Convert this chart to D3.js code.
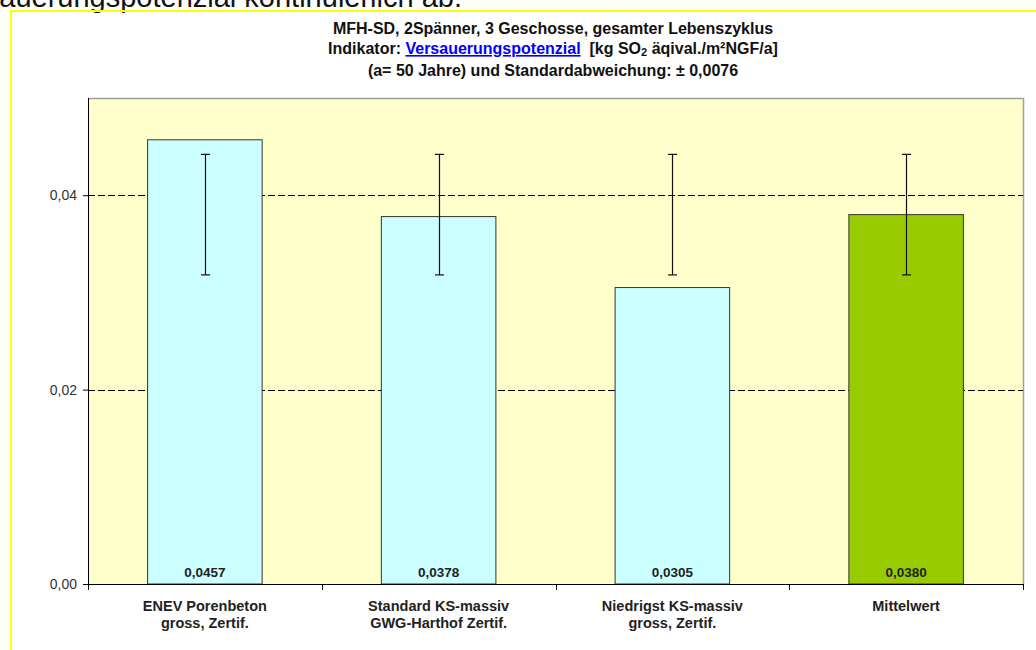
<!DOCTYPE html>
<html>
<head>
<meta charset="utf-8">
<script src="https://cdn.jsdelivr.net/npm/d3@7"></script>
<style>
  html, body { margin: 0; padding: 0; background: #fff; }
  svg { display: block; font-family: Arial, "Liberation Sans", sans-serif; }
</style>
</head>
<body>
<svg id="chart" width="1036" height="650"></svg>
<script>
// Building variants and their acidification potential (kg SO2 equiv./m²NGF/a)
const categories = [
  ["ENEV Porenbeton", "gross, Zertif."],
  ["Standard KS-massiv", "GWG-Harthof Zertif."],
  ["Niedrigst KS-massiv", "gross, Zertif."],
  ["Mittelwert"]
];
const values = [0.0457, 0.0378, 0.0305, 0.0380];
const valueLabels = ["0,0457", "0,0378", "0,0305", "0,0380"];
const barColors = ["#CCFFFF", "#CCFFFF", "#CCFFFF", "#99CC00"];
// Error bar extents per variant
const errLow = [0.0318, 0.0318, 0.0318, 0.0318];
const errHigh = [0.0442, 0.0442, 0.0442, 0.0442];
const yTicks = [0, 0.02, 0.04];
const yTickLabels = ["0,00", "0,02", "0,04"];

const svg = d3.select("#chart");
const plot = { left: 88, right: 1023, top: 98, bottom: 584 };

// Running page text above the chart frame
svg.append("text")
  .attr("x", 462).attr("y", 7)
  .attr("text-anchor", "end")
  .attr("font-size", 29)
  .attr("fill", "#111")
  .text("Versauerungspotenzial kontinuierlich ab.");

// Yellow frame
svg.append("path")
  .attr("d", "M11,650 V11 H1036")
  .attr("fill", "none")
  .attr("stroke", "#FFFF00")
  .attr("stroke-width", 2);

// Title
const title = svg.append("g").attr("font-weight", "bold").attr("font-size", 16)
  .attr("text-anchor", "middle").attr("fill", "#111");
title.append("text").attr("x", 553).attr("y", 34)
  .text("MFH-SD, 2Spänner, 3 Geschosse, gesamter Lebenszyklus");
const t2 = title.append("text").attr("x", 553).attr("y", 54);
t2.append("tspan").text("Indikator: ");
t2.append("tspan").attr("fill", "#0000FF").attr("text-decoration", "underline")
  .text("Versauerungspotenzial");
t2.append("tspan").text("\u00A0 [kg SO");
t2.append("tspan").attr("font-size", 11).attr("dy", 2).text("2");
t2.append("tspan").attr("dy", -2).text(" äqival./m²NGF/a]");
title.append("text").attr("x", 553).attr("y", 76)
  .text("(a= 50 Jahre) und Standardabweichung: ± 0,0076");

// Scales
const x = d3.scaleBand()
  .domain(d3.range(categories.length))
  .range([plot.left, plot.right])
  .paddingInner(0.51)
  .paddingOuter(0.255);
const xBand = d3.scaleBand()
  .domain(d3.range(categories.length))
  .range([plot.left, plot.right]);
const y = d3.scaleLinear().domain([0, 0.05]).range([plot.bottom, plot.top]);

// Plot background
svg.append("rect")
  .attr("x", plot.left).attr("y", plot.top)
  .attr("width", plot.right - plot.left).attr("height", plot.bottom - plot.top)
  .attr("fill", "#FFFFCC");
svg.append("path")
  .attr("d", `M${plot.left},${plot.top + 0.5} H${plot.right + 0.5} V${plot.bottom}`)
  .attr("fill", "none").attr("stroke", "#A0A0A0").attr("stroke-width", 1.5);

// Gridlines
svg.append("g").selectAll("line")
  .data(yTicks.filter(d => d > 0))
  .join("line")
  .attr("x1", plot.left).attr("x2", plot.right)
  .attr("y1", d => Math.round(y(d)) + 0.5).attr("y2", d => Math.round(y(d)) + 0.5)
  .attr("stroke", "#000").attr("stroke-width", 1)
  .attr("stroke-dasharray", "7,3");

// Bars
svg.append("g").selectAll("rect")
  .data(values)
  .join("rect")
  .attr("x", (d, i) => x(i))
  .attr("y", d => y(d))
  .attr("width", x.bandwidth())
  .attr("height", d => y(0) - y(d))
  .attr("fill", (d, i) => barColors[i])
  .attr("stroke", "#333")
  .attr("stroke-width", 1);

// Error bars
const eb = svg.append("g").attr("stroke", "#111").attr("stroke-width", 1.2);
values.forEach((v, i) => {
  const cx = Math.round(x(i) + x.bandwidth() / 2) + 0.5;
  eb.append("line").attr("x1", cx).attr("x2", cx)
    .attr("y1", y(errLow[i])).attr("y2", y(errHigh[i]));
  [errLow[i], errHigh[i]].forEach(e => {
    eb.append("line").attr("x1", cx - 4.5).attr("x2", cx + 4.5)
      .attr("y1", y(e)).attr("y2", y(e));
  });
});

// Value labels inside the bars
svg.append("g").selectAll("text")
  .data(values)
  .join("text")
  .attr("x", (d, i) => x(i) + x.bandwidth() / 2)
  .attr("y", 577)
  .attr("text-anchor", "middle")
  .attr("font-size", 13.5).attr("font-weight", "bold").attr("fill", "#222")
  .text((d, i) => valueLabels[i]);

// Y axis
const yAxis = svg.append("g")
  .attr("transform", `translate(${plot.left},0)`)
  .call(d3.axisLeft(y).tickValues(yTicks).tickSize(5).tickPadding(6)
    .tickFormat((d, i) => yTickLabels[i]));
yAxis.select(".domain").attr("stroke", "#000").attr("d", `M0.5,${plot.top}V${plot.bottom}`);
yAxis.selectAll(".tick line").attr("stroke", "#000");
yAxis.selectAll(".tick text").attr("font-size", 14).attr("fill", "#333")
  .attr("font-family", "Arial, 'Liberation Sans', sans-serif");

// X axis with ticks at the category boundaries
const boundaries = d3.range(categories.length + 1).map(i =>
  i < categories.length ? xBand(i) : plot.right);
const xAxisG = svg.append("g");
xAxisG.append("line")
  .attr("x1", plot.left).attr("x2", plot.right + 0.5)
  .attr("y1", plot.bottom + 0.5).attr("y2", plot.bottom + 0.5)
  .attr("stroke", "#000");
xAxisG.selectAll(".bt").data(boundaries).join("line")
  .attr("class", "bt")
  .attr("x1", d => Math.round(d) + 0.5).attr("x2", d => Math.round(d) + 0.5)
  .attr("y1", plot.bottom).attr("y2", plot.bottom + 6)
  .attr("stroke", "#000");

// Category labels
const catG = svg.append("g").attr("font-size", 14.5).attr("font-weight", "bold")
  .attr("text-anchor", "middle").attr("fill", "#222");
categories.forEach((lines, i) => {
  const t = catG.append("text")
    .attr("x", xBand(i) + xBand.bandwidth() / 2)
    .attr("y", 611);
  lines.forEach((ln, j) => {
    t.append("tspan")
      .attr("x", xBand(i) + xBand.bandwidth() / 2)
      .attr("dy", j === 0 ? 0 : 17)
      .text(ln);
  });
});
</script>
</body>
</html>
